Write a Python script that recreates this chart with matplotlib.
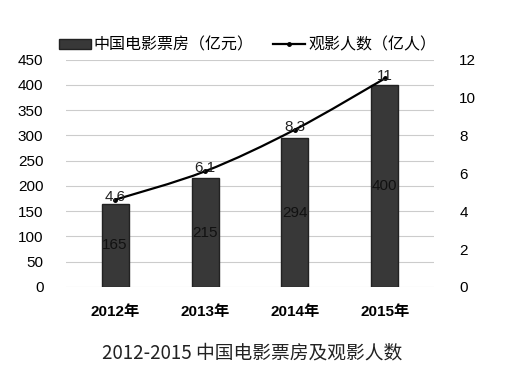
import numpy as np
import matplotlib.pyplot as plt
from matplotlib.path import Path
from matplotlib.patches import PathPatch, Patch
from matplotlib.lines import Line2D

plt.rcParams['font.family'] = ['Liberation Sans', 'Noto Sans CJK SC', 'DejaVu Sans']

years = ['2012年', '2013年', '2014年', '2015年']
box_office = [165, 215, 294, 400]      # 亿元
audience = [4.6, 6.1, 8.3, 11]         # 亿人
audience_labels = ['4.6', '6.1', '8.3', '11']

fig = plt.figure(figsize=(5.05, 3.79), dpi=100)
ax = fig.add_axes([0.13, 0.243, 0.73, 0.60])
ax2 = ax.twinx()

x = np.arange(len(years))
ax.bar(x, box_office, width=0.3, color='#383838', edgecolor='#222222', zorder=2)
for xi, v in zip(x, box_office):
    ax.text(xi, v / 2, str(v), ha='center', va='center', fontsize=11, color='#111111', zorder=3)

ax.set_ylim(0, 450)
ax.set_yticks(range(0, 451, 50))
ax.set_xlim(-0.55, 3.55)
ax.set_xticks(x)
ax.set_xticklabels(years, fontsize=12.5, fontweight='bold')
ax.grid(axis='y', color='#cccccc', linewidth=0.8, zorder=0)
ax.set_axisbelow(True)

# smooth curve through the points (Catmull-Rom as cubic beziers)
pts = np.column_stack([x, audience]).astype(float)
verts = [pts[0]]
codes = [Path.MOVETO]
for i in range(len(pts) - 1):
    p0 = pts[i - 1] if i > 0 else pts[i]
    p1, p2 = pts[i], pts[i + 1]
    p3 = pts[i + 2] if i + 2 < len(pts) else pts[i + 1]
    c1 = p1 + (p2 - p0) / 6
    c2 = p2 - (p3 - p1) / 6
    verts += [c1, c2, p2]
    codes += [Path.CURVE4] * 3
ax2.add_patch(PathPatch(Path(verts, codes), facecolor='none', edgecolor='black', linewidth=1.6, zorder=4))
ax2.plot(x, audience, 'o', color='black', markersize=2.5, zorder=5)
for xi, v, lab in zip(x, audience, audience_labels):
    ax2.text(xi, v + 0.15, lab, ha='center', va='center', fontsize=11, color='#222222', zorder=6)

ax2.set_ylim(0, 12)
ax2.set_yticks(range(0, 13, 2))

for a in (ax, ax2):
    for s in a.spines.values():
        s.set_visible(False)
    a.tick_params(length=0, labelsize=11)
ax.tick_params(axis='y', pad=16)
ax2.tick_params(axis='y', pad=18)
ax.tick_params(axis='x', pad=13)

handles = [Patch(facecolor='#383838', edgecolor='#222222'),
           Line2D([], [], color='black', linewidth=1.6, marker='o', markersize=2.5)]
fig.legend(handles, ['中国电影票房（亿元）', '观影人数（亿人）'], loc='upper center',
           bbox_to_anchor=(0.49, 0.94), ncol=2, frameon=False, fontsize=11.5,
           handlelength=2.0, handleheight=0.6, columnspacing=1.2, handletextpad=0.2)

fig.text(0.5, 0.07, '2012-2015 中国电影票房及观影人数', ha='center', va='center',
         fontsize=13.5, family=['Noto Sans CJK SC'], color='#222222')

fig.savefig('out.png', dpi=100)
